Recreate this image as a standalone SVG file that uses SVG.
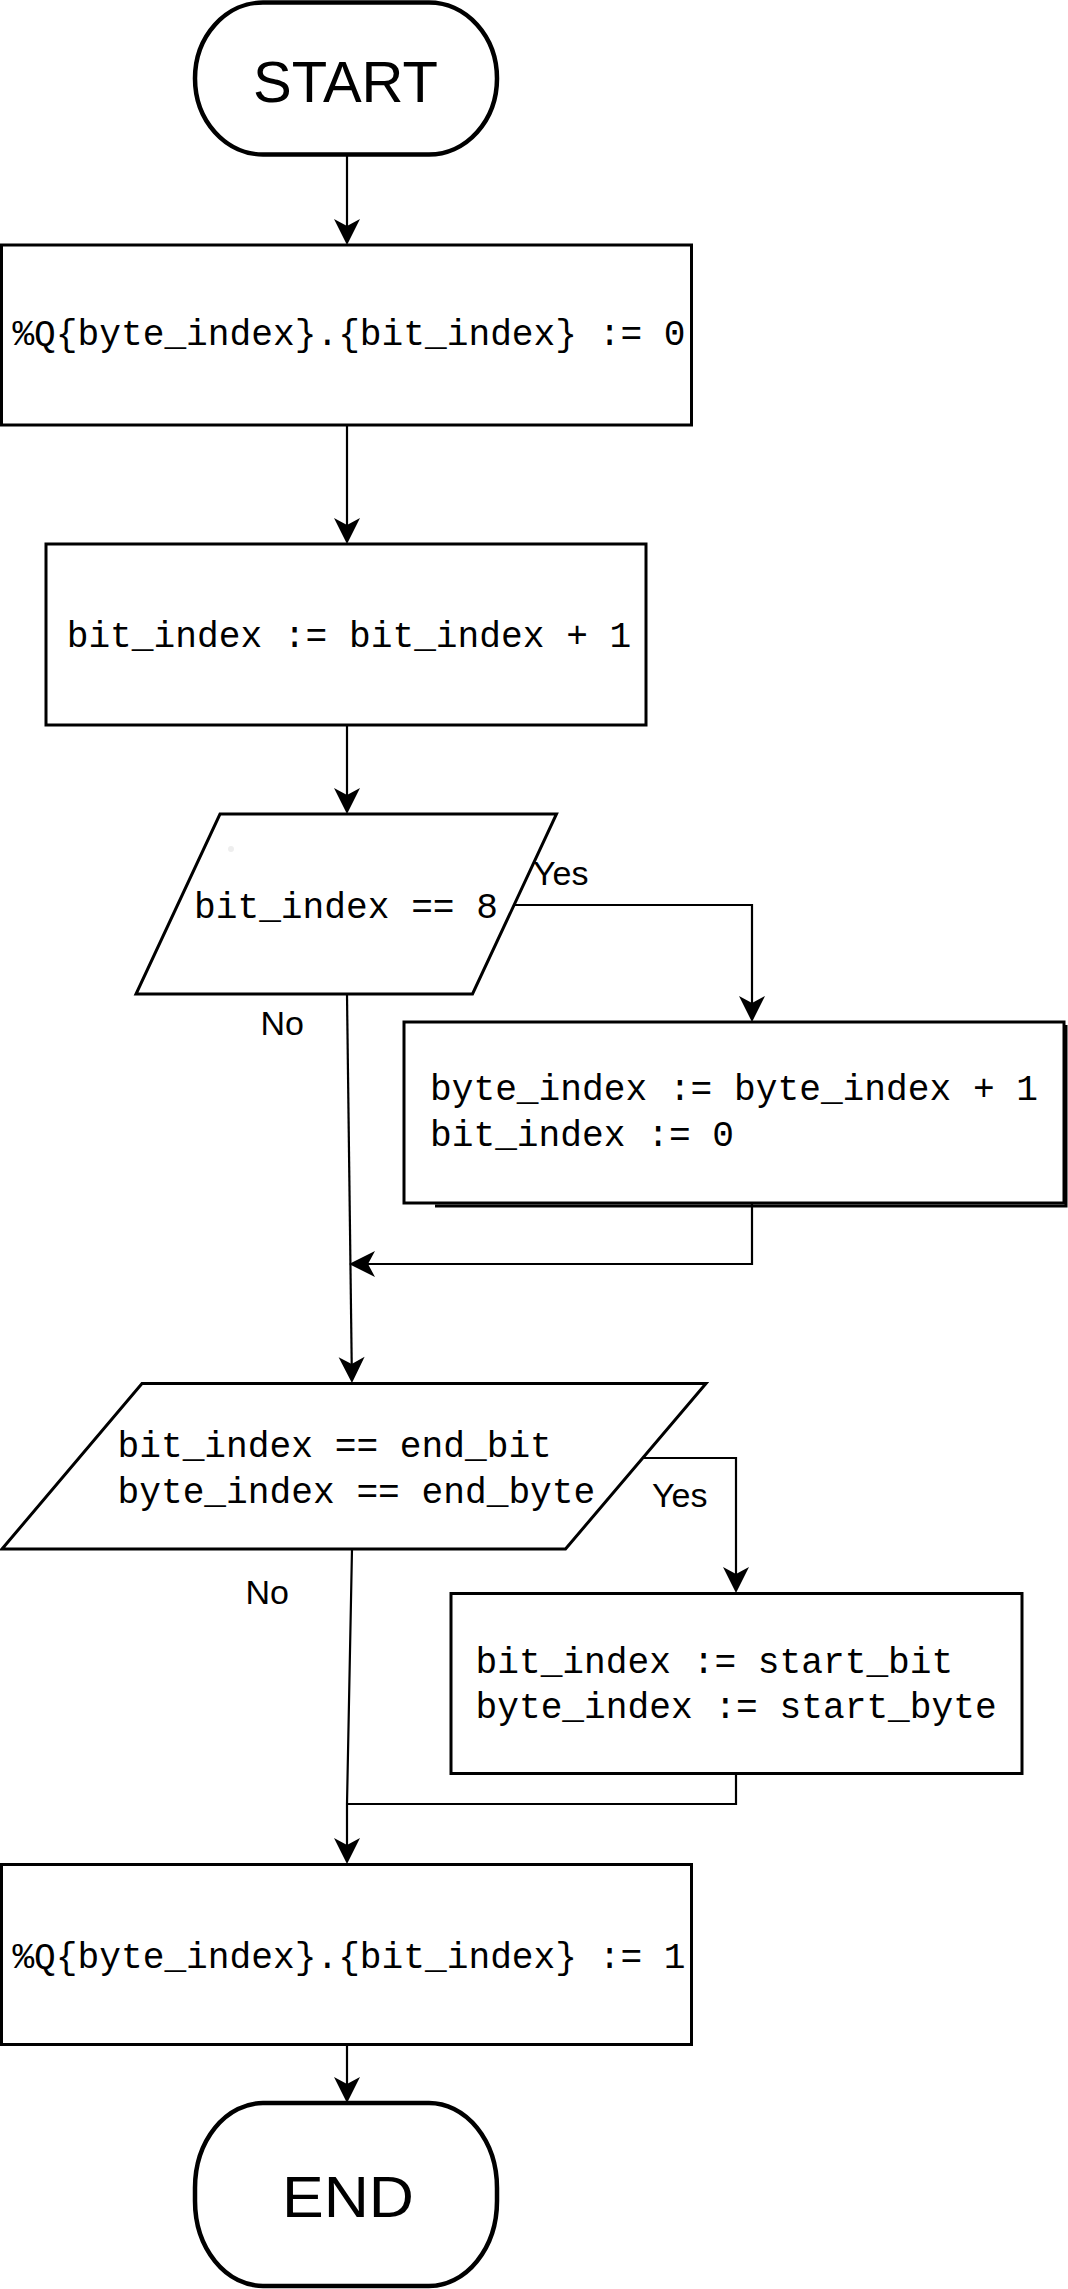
<svg xmlns="http://www.w3.org/2000/svg" width="1068" height="2289" viewBox="0 0 1068 2289">
<style>
.shape{fill:#fff;stroke:#000;stroke-width:3}
.term{fill:#fff;stroke:#000;stroke-width:4.5}
.code{font-family:"Liberation Mono","DejaVu Sans Mono",monospace;font-size:36.2px;fill:#000}
.big{font-family:"Liberation Sans",Arial,sans-serif;font-size:58px;fill:#000;text-anchor:middle}
.lbl{font-family:"Liberation Sans",Arial,sans-serif;font-size:34px;fill:#000}
.edge{fill:none;stroke:#000;stroke-width:2.2;marker-end:url(#arr)}
.plain{fill:none;stroke:#000;stroke-width:2.2}
</style>
<defs>
<marker id="arr" viewBox="-27 -14 28 28" refX="-4" refY="0" markerWidth="28" markerHeight="28" markerUnits="userSpaceOnUse" orient="auto">
<path d="M0,0 L-26,-13 L-19,0 L-26,13 Z" fill="#000"/>
</marker>
</defs>
<rect width="1068" height="2289" fill="#fff"/>
<g id="connectors">
<path class="edge" d="M347,155 V241"/>
<path class="edge" d="M347,425 V540"/>
<path class="edge" d="M347,725 V810"/>
<path class="edge" d="M515,905 H752 V1018"/>
<path class="edge" d="M347,995 L351.9,1379"/>
<path class="edge" d="M752,1203 V1264 H353"/>
<path class="edge" d="M642,1458 H736 V1589"/>
<path class="edge" d="M352,1549 L347,1804 V1860"/>
<path class="plain" d="M736,1774 V1804 H347"/>
<path class="edge" d="M347,2044 V2099"/>
</g>
<g id="start">
<rect class="term" x="195" y="2.5" width="302" height="152" rx="68" ry="76"/>
<text class="big" x="345.5" y="101.7">START</text>
</g>
<g id="set0">
<rect class="shape" x="1.5" y="245" width="690" height="180"/>
<text class="code" x="349" y="345" text-anchor="middle">%Q{byte_index}.{bit_index} := 0</text>
</g>
<g id="inc">
<rect class="shape" x="46" y="544" width="600" height="181"/>
<text class="code" x="349" y="647" text-anchor="middle">bit_index := bit_index + 1</text>
</g>
<g id="dec1">
<polygon class="shape" points="220,814 556.5,814 472.5,994 136,994"/>
<circle cx="231" cy="849" r="3" fill="#eee"/>
<text class="code" x="346" y="918" text-anchor="middle">bit_index == 8</text>
</g>
<g id="carry">
<path d="M435,1206 H1066 V1025" fill="none" stroke="#000" stroke-width="3"/>
<rect class="shape" x="404" y="1022" width="660" height="181"/>
<text class="code" x="430" y="1100">byte_index := byte_index + 1</text>
<text class="code" x="430" y="1146">bit_index := 0</text>
</g>
<g id="dec2">
<polygon class="shape" points="142,1383.5 706,1383.5 565.5,1549 2,1549"/>
<text class="code" x="117.5" y="1457">bit_index == end_bit</text>
<text class="code" x="117.5" y="1502.5">byte_index == end_byte</text>
</g>
<g id="wrap">
<rect class="shape" x="451" y="1593.5" width="571" height="180"/>
<text class="code" x="475.5" y="1673">bit_index := start_bit</text>
<text class="code" x="475.5" y="1718">byte_index := start_byte</text>
</g>
<g id="set1">
<rect class="shape" x="1.5" y="1864.5" width="690" height="180"/>
<text class="code" x="349" y="1968" text-anchor="middle">%Q{byte_index}.{bit_index} := 1</text>
</g>
<g id="end">
<rect class="term" x="195" y="2103" width="302" height="183" rx="68" ry="85"/>
<text class="big" x="348" y="2217" textLength="132" lengthAdjust="spacingAndGlyphs">END</text>
</g>
<g id="labels">
<text class="lbl" x="533" y="885">Yes</text>
<text class="lbl" x="260.5" y="1035">No</text>
<text class="lbl" x="652" y="1507">Yes</text>
<text class="lbl" x="245.5" y="1603.5">No</text>
</g>
</svg>
